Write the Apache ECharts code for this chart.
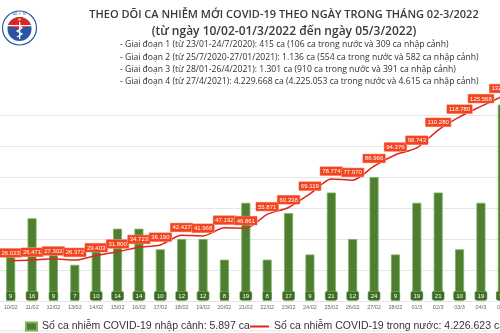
<!DOCTYPE html>
<html><head><meta charset="utf-8">
<script src="https://cdn.jsdelivr.net/npm/echarts@6/dist/echarts.min.js"></script>
<style>html,body{margin:0;padding:0;background:#fff;overflow:hidden}#c{width:500px;height:333px}</style>
</head><body><div id="c"></div>
<script>
const categories = ['10/02','11/02','12/02','13/02','14/02','15/02','16/02','17/02','18/02','19/02','20/02','21/02','22/02','23/02','24/02','25/02','26/02','27/02','28/02','01/3','02/3','03/3','04/3','05/3'];
const importedCases = [9,16,9,7,10,14,14,10,12,12,8,19,8,17,9,21,12,24,9,19,21,10,19,38];
const domesticCases = [26023,26471,27302,26372,29403,31800,34723,36190,42427,41968,47192,46861,55871,60338,69119,78774,77970,86966,94376,98743,110280,118780,125568,132083];
const titleLines = ['THEO DÕI CA NHIỄM MỚI COVID-19 THEO NGÀY TRONG THÁNG 02-3/2022','(từ ngày 10/02-01/3/2022 đến ngày 05/3/2022)'];
const phaseLines = [
  '- Giai đoạn 1 (từ 23/01-24/7/2020): 415 ca (106 ca trong nước và 309 ca nhập cảnh)',
  '- Giai đoạn 2 (từ 25/7/2020-27/01/2021): 1.136 ca (554 ca trong nước và 582 ca nhập cảnh)',
  '- Giai đoạn 3 (từ 28/01-26/4/2021): 1.301 ca (910 ca trong nước và 391 ca nhập cảnh)',
  '- Giai đoạn 4 (từ 27/4/2021): 4.229.668 ca (4.225.053 ca trong nước và 4.615 ca nhập cảnh)'
];
const seriesNames = ['Số ca nhiễm COVID-19 nhập cảnh: 5.897 ca','Số ca nhiễm COVID-19 trong nước: 4.226.623 ca'];

const fmt = v => String(v).replace(/\B(?=(\d{3})+(?!\d))/g, '.');
const chart = echarts.init(document.getElementById('c'), null, {renderer:'canvas'});

const graphics = [
  {type:'text', style:{x:284, y:15, text:titleLines[0], textAlign:'center', textVerticalAlign:'middle', fontFamily:'Open Sans', fontWeight:600, fontSize:11, fill:'#3a3a3a'}},
  {type:'text', style:{x:284, y:32, text:titleLines[1], textAlign:'center', textVerticalAlign:'middle', fontFamily:'Open Sans', fontWeight:600, fontSize:12, fill:'#3a3a3a'}},
  // logo
  {type:'circle', shape:{cx:19.5, cy:28, r:17}, style:{fill:'#fff', stroke:'#2b5aa6', lineWidth:1.2}},
  {type:'circle', shape:{cx:19.5, cy:29, r:12}, style:{fill:'#2a55a3'}},
  {type:'sector', shape:{cx:19.5, cy:29, r:12, r0:0, startAngle:-Math.PI*0.92, endAngle:-Math.PI*0.08}, style:{fill:'#d8262c'}},
  {type:'rect', shape:{x:7.5, y:25, width:24, height:1.2}, style:{fill:'#fff'}},
  {type:'rect', shape:{x:19, y:22, width:1.3, height:17}, style:{fill:'#fff'}},
  {type:'polyline', shape:{points:[[17,37],[22,34],[17,31],[22,28],[19,25]]}, style:{stroke:'#fff', lineWidth:1.2, fill:null}},
  {type:'circle', shape:{cx:19.5, cy:19.5, r:1.3}, style:{fill:'#f7d117'}},
  {type:'text', style:{x:19.5, y:14.2, text:'BỘ Y TẾ', textAlign:'center', textVerticalAlign:'middle', fontFamily:'DejaVu Sans', fontSize:3.6, fill:'#2b5aa6'}},
  {type:'line', shape:{x1:0, y1:331, x2:500, y2:331}, style:{stroke:'#e2e2e2', lineWidth:1}}
];
phaseLines.forEach((t,i)=>{
  graphics.push({type:'text', style:{x:120, y:45+i*12.3, text:t, textAlign:'left', textVerticalAlign:'middle', fontFamily:'Open Sans', fontSize:8.6, fill:'#2f2f2f'}});
});

const option = {
  animation:false,
  backgroundColor:'#fff',
  grid:{left:0, right:-13, top:84, bottom:32, containLabel:false, outerBoundsMode:'none'},
  legend:[
    {data:[{name:seriesNames[0], icon:'rect'}], left:20, top:316, itemWidth:11, itemHeight:8, itemGap:5,
     textStyle:{fontFamily:'Liberation Sans', fontSize:10.5, color:'#333'}},
    {data:[{name:seriesNames[1], icon:'rect'}], left:245, top:316, itemWidth:19, itemHeight:2, itemGap:5,
     textStyle:{fontFamily:'Liberation Sans', fontSize:10.5, color:'#333'}}
  ],
  xAxis:{type:'category', data:categories, axisLine:{show:false}, axisTick:{show:false},
    axisLabel:{interval:0, margin:3, fontSize:5.5, color:'#666', fontFamily:'Liberation Sans'}},
  yAxis:[
    {type:'value', min:0, max:42, interval:6, axisLabel:{show:false}, axisLine:{show:false}, axisTick:{show:false},
     splitLine:{show:true, lineStyle:{width:1, color:['#e6e6e6','#e6e6e6','#e6e6e6','#e6e6e6','#e6e6e6','#e6e6e6','#e6e6e6','rgba(0,0,0,0)']}}},
    {type:'value', min:0, max:140000, interval:20000, axisLabel:{show:false}, axisLine:{show:false}, axisTick:{show:false}, splitLine:{show:false}}
  ],
  series:[
    {name:seriesNames[0], type:'bar', yAxisIndex:0, data:importedCases, barWidth:9,
     itemStyle:{color:'#4f7d32', borderColor:'#7ab457', borderWidth:0.8},
     label:{show:true, position:'insideBottom', distance:1, fontSize:6, color:'#fff', fontFamily:'Liberation Sans',
       backgroundColor:'#3f6c28', borderColor:'#86be64', borderWidth:0.6, borderRadius:1.5, padding:[1.5,2.5,1,2.5]}},
    {name:seriesNames[1], type:'line', yAxisIndex:1, data:domesticCases, smooth:0.25, symbol:'circle', symbolSize:1, showSymbol:true,
     lineStyle:{color:'#e1251b', width:1.5}, itemStyle:{color:'#e1251b'},
     label:{show:true, position:'top', distance:3, formatter:p=>fmt(p.value), fontSize:6, color:'#fff', fontFamily:'Liberation Sans',
       backgroundColor:'#f2441f', borderColor:'#f7a08a', borderWidth:0.5, padding:[1.5,2,1,2]}}
  ],
  graphic:graphics
};
chart.setOption(option);
</script></body></html>
